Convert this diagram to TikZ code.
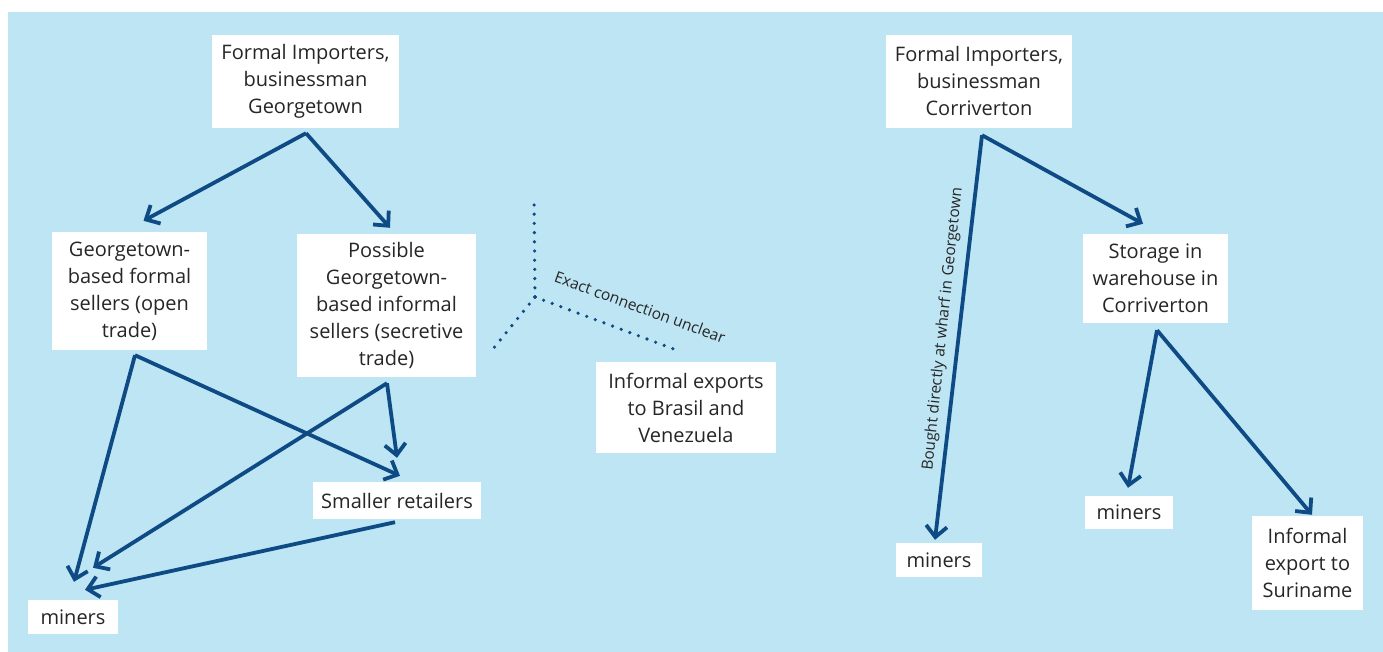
\documentclass[tikz,border=0pt]{standalone}
\usepackage{fontspec}
\setmainfont{Open Sans}
\usetikzlibrary{arrows.meta,calc}
\definecolor{bgblue}{HTML}{BEE5F4}
\definecolor{flow}{HTML}{0E4A84}
\definecolor{txt}{HTML}{262626}
\begin{document}
\begin{tikzpicture}[x=1pt,y=-1pt,
  box/.style={fill=white, text=txt, align=center, inner sep=0pt,
    font=\fontsize{20}{27}\selectfont},
  flowarrow/.style={draw=flow, line width=3.8pt,
    -{Straight Barb[length=11pt,width=21pt]}},
  unclear/.style={draw=flow, line width=3.6pt, line cap=round,
    dash pattern=on 0pt off 9.2pt},
  note/.style={text=txt, inner sep=0pt, font=\fontsize{15.5}{18}\selectfont}]

\useasboundingbox (0,0) rectangle (1383,652);
\fill[bgblue] (8,12) rectangle (1383,652);

% Georgetown chain
\node[box, minimum width=187pt, minimum height=93pt] (imp1) at (305.5,81.5)
  {Formal Importers,\\businessman\\Georgetown};
\node[box, minimum width=155pt, minimum height=118pt] (fs) at (129.5,291)
  {Georgetown-\\based formal\\sellers (open\\trade)};
\node[box, minimum width=179pt, minimum height=143pt] (ps) at (386.5,305.5)
  {Possible\\Georgetown-\\based informal\\sellers (secretive\\trade)};
\node[box, minimum width=180pt, minimum height=91pt] (ex) at (686,407.5)
  {Informal exports\\to Brasil and\\Venezuela};
\node[box, minimum width=168pt, minimum height=37pt] (sr) at (397,500.5)
  {Smaller retailers};
\node[box, minimum width=90pt, minimum height=34pt] (m1) at (73,617)
  {miners};

% Corriverton chain
\node[box, minimum width=186pt, minimum height=93pt] (imp2) at (979,81.5)
  {Formal Importers,\\businessman\\Corriverton};
\node[box, minimum width=145pt, minimum height=89pt] (st) at (1155.5,278.5)
  {Storage in\\warehouse in\\Corriverton};
\node[box, minimum width=88pt, minimum height=33pt] (m2) at (1129,512.5)
  {miners};
\node[box, minimum width=86pt, minimum height=34pt] (m3) at (939,560)
  {miners};
\node[box, minimum width=111pt, minimum height=94pt] (sur) at (1307.5,563)
  {Informal\\export to\\Suriname};

% flows, Georgetown
\draw[flowarrow] ($(imp1.south)+(0.5,5)$) -- ($(fs.north)+(14,-11)$);
\draw[flowarrow] ($(imp1.south)+(0.5,5)$) -- ($(ps.north)+(3.5,-6)$);
\draw[flowarrow] ($(fs.south)+(5.5,5)$) -- ($(m1.north)+(1,-18)$);
\draw[flowarrow] ($(fs.south)+(5.5,5)$) -- ($(sr.north)+(3,-6)$);
\draw[flowarrow] ($(ps.south)+(0.5,6)$) -- ($(sr.north)+(0,-24)$);
\draw[flowarrow] ($(ps.south)+(0.5,6)$) -- ($(m1.north)+(20,-32)$);
\draw[flowarrow] ($(sr.south)+(-2,3)$) -- ($(m1.north)+(12,-10)$);

% flows, Corriverton
\draw[flowarrow] ($(imp2.south)+(3,7)$) -- ($(st.north)+(-12.5,-10)$);
\draw[flowarrow] ($(imp2.south)+(3,7)$) -- ($(m3.north)+(-4,-3)$);
\draw[flowarrow] ($(st.south)+(1.5,7)$) -- ($(m2.north)+(-1,-8)$);
\draw[flowarrow] ($(st.south)+(1.5,7)$) -- ($(sur.north)+(4.5,-1)$);
\node[note, rotate=84] (wharf) at (943,329)
  {Bought directly at wharf in Georgetown};

% uncertain link towards the exports
\coordinate (hub) at (535,297);
\coordinate (upper) at (534,196);
\coordinate (lower) at (493,349);
\coordinate (right) at (679,351);
\draw[unclear] (hub) -- (upper);
\draw[unclear] (hub) -- (lower);
\draw[unclear] (hub) -- (right);
\node[note, rotate=-20] (unclearlabel) at (640,307) {Exact connection unclear};
\end{tikzpicture}
\end{document}
